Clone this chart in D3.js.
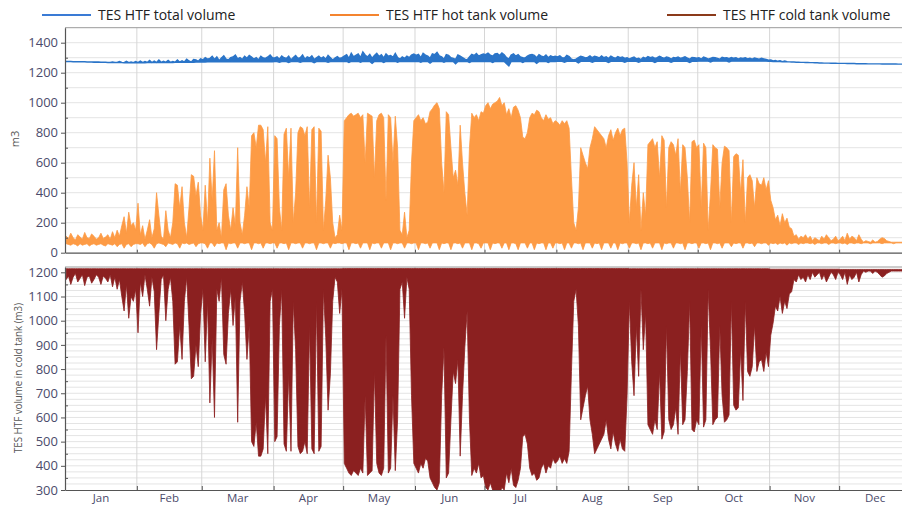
<!DOCTYPE html>
<html>
<head>
<meta charset="utf-8">
<script src="https://cdn.jsdelivr.net/npm/d3@7"></script>
<style>
body{margin:0;background:#fff;}
svg{display:block;font-family:"Open Sans",sans-serif;}
</style>
</head>
<body>
<svg id="chart"></svg>
<script>
var months = ['Jan','Feb','Mar','Apr','May','Jun','Jul','Aug','Sep','Oct','Nov','Dec'];
var monthStart = [0,31,59,90,120,151,181,212,243,273,304,334];
var legendNames = ['TES HTF total volume','TES HTF hot tank volume','TES HTF cold tank volume'];

// daily peak of the hot tank (m3), one row per month
var hotPeak = [
  [110,95,130,100,85,120,105,90,135,100,95,125,110,90,100,130,95,105,120,90,140,100,150,110,180,240,130,270,180,200,150],
  [330,120,180,90,150,220,100,160,400,250,110,90,280,150,100,200,460,450,300,440,200,100,300,520,510,380,470,250],
  [150,450,200,630,350,680,150,200,100,420,460,250,150,300,180,700,200,120,250,440,300,780,800,700,850,850,820,600,840,200,150],
  [780,760,300,150,790,830,500,830,200,400,800,840,830,780,840,300,820,840,200,830,810,150,350,650,500,200,100,120,250,150],
  [880,900,920,930,910,920,930,900,920,600,930,920,910,500,880,920,930,900,350,920,900,600,910,700,150,120,270,100,150,600,880],
  [900,920,880,900,860,870,940,960,985,1000,960,600,400,940,920,700,500,550,450,850,600,400,250,700,930,900,920,880,940,930],
  [980,1000,960,990,1000,1010,1035,980,1000,920,960,900,970,980,950,900,770,760,800,900,930,920,950,940,900,880,920,890,900,860,880],
  [870,850,880,860,880,830,500,200,150,300,700,650,600,560,700,760,840,820,800,780,760,700,780,820,750,800,830,780,820,830,600],
  [200,450,600,300,520,150,400,250,720,740,760,700,740,500,780,750,300,700,740,720,650,760,400,720,700,500,200,740,750,700],
  [720,300,730,700,150,400,720,700,690,300,600,710,700,680,200,640,660,650,400,620,200,500,520,480,300,500,460,450,500,420,480],
  [350,300,220,250,180,260,200,230,170,160,110,120,90,110,100,120,90,110,80,100,90,80,110,90,120,100,80,90,110,80],
  [90,110,80,130,90,110,100,80,120,90,70,80,75,70,85,70,75,90,100,95,80,75,70,70,70,70,70,70,70,70,70]
];
// daily low of the hot tank
var hotLow = [
  [60,55,50,60,55,45,60,50,55,60,45,55,60,50,55,60,50,45,60,55,50,60,40,55,60,30,55,60,40,55,60],
  [60,55,65,40,60,65,55,30,60,65,60,55,40,65,60,55,65,60,30,65,60,65,55,60,65,40,60,65],
  [65,60,30,65,65,40,65,60,65,65,20,65,60,65,65,30,65,65,60,65,65,20,65,65,60,65,30,65,65,60,65],
  [65,30,65,65,60,65,20,65,65,60,65,65,30,65,65,60,65,65,20,65,65,60,65,65,30,65,60,65,65,60],
  [65,65,20,65,65,60,65,30,65,65,65,20,65,60,65,65,30,65,65,65,20,65,65,60,65,65,30,65,65,60,65],
  [65,20,65,65,60,65,30,65,65,65,20,65,60,65,65,20,65,65,60,65,30,65,65,65,20,65,65,60,30,65],
  [65,65,20,65,60,65,65,30,65,65,20,65,65,60,20,65,65,65,30,65,65,20,65,60,65,65,20,65,65,30,65],
  [65,60,65,20,65,65,30,65,65,60,65,20,65,65,65,30,65,60,65,20,65,65,65,30,65,65,20,65,60,65,65],
  [30,65,65,60,65,20,65,65,60,65,30,65,65,65,20,65,60,65,65,30,65,65,60,65,20,65,65,60,65,65],
  [30,65,65,60,65,20,65,65,60,65,30,65,65,65,40,65,60,65,65,30,65,65,60,65,40,65,65,60,65,65,50],
  [65,60,65,55,65,60,65,50,65,60,65,65,55,65,60,65,65,60,65,55,65,65,60,65,65,55,65,65,60,65],
  [65,60,65,55,65,65,60,65,65,60,65,65,65,60,65,65,65,65,60,65,65,65,65,60,65,65,65,65,65,65,65]
];
// daily minimum of the cold tank
var coldMin = [
  [1170,1185,1150,1180,1195,1160,1175,1190,1145,1180,1185,1155,1170,1190,1180,1150,1185,1175,1160,1190,1140,1180,1130,1170,1100,1040,1150,1010,1100,1080,1130],
  [950,1160,1100,1190,1130,1060,1180,1120,880,1030,1170,1190,1000,1130,1180,1080,820,830,980,840,1080,1180,980,760,770,900,810,1030],
  [1130,830,1080,660,930,600,1130,1080,1180,860,820,1030,1130,980,1100,580,1080,1160,1030,840,980,500,480,580,440,440,470,690,450,1080,1130],
  [500,520,980,1130,490,460,780,460,1080,880,480,450,460,500,450,980,470,450,1080,460,480,1130,930,630,780,1080,1180,1160,1030,1130],
  [410,390,370,360,380,370,360,390,370,690,360,370,380,790,410,370,360,390,940,370,390,690,380,590,1130,1160,1010,1180,1130,690,410],
  [390,370,410,390,430,420,350,330,310,300,330,690,890,350,370,590,790,740,840,440,690,890,1040,590,360,390,370,410,350,360],
  [310,300,330,300,300,290,285,310,300,370,330,390,320,310,340,390,520,530,490,390,360,370,340,350,390,410,370,400,390,430,410],
  [420,440,410,430,410,460,790,1080,1130,980,590,640,690,730,590,530,450,470,490,510,530,590,510,470,540,490,460,510,470,460,690],
  [1080,830,690,980,770,1130,880,1030,570,550,530,590,550,790,510,540,980,590,550,570,640,530,880,570,590,790,1080,550,540,590],
  [570,980,560,590,1130,880,570,590,600,980,690,580,590,610,1080,650,630,640,880,670,1080,790,770,810,980,790,830,840,790,870,810],
  [940,990,1060,1040,1100,1030,1080,1050,1110,1120,1170,1160,1190,1170,1180,1160,1190,1170,1200,1180,1190,1200,1170,1190,1160,1180,1200,1190,1170,1200],
  [1190,1170,1200,1150,1190,1170,1180,1200,1160,1190,1205,1200,1205,1205,1195,1205,1200,1190,1180,1185,1195,1200,1205,1205,1205,1205,1205,1205,1205,1205,1205]
];
// full level of the cold tank, per month
var coldTop = [1215,1215,1215,1215,1216,1216,1216,1216,1215,1215,1213,1212];
// total volume, daily low / high
var totalLow = [
  [1274,1274,1274,1273,1273,1273,1272,1272,1272,1271,1271,1271,1270,1270,1270,1269,1269,1269,1268,1268,1268,1267,1267,1267,1267,1266,1266,1266,1266,1266,1266],
  [1266,1266,1266,1266,1267,1267,1267,1267,1267,1267,1268,1268,1268,1268,1268,1268,1269,1269,1269,1269,1270,1270,1270,1270,1270,1271,1271,1271],
  [1271,1271,1272,1272,1272,1272,1272,1272,1272,1272,1272,1272,1272,1273,1273,1273,1273,1273,1273,1273,1273,1273,1273,1273,1273,1273,1273,1273,1273,1273,1273],
  [1274,1274,1270,1274,1274,1274,1268,1274,1274,1274,1274,1270,1274,1274,1274,1274,1274,1266,1274,1274,1274,1274,1274,1270,1274,1274,1274,1274,1274,1274],
  [1275,1275,1268,1275,1275,1275,1275,1270,1275,1275,1275,1275,1262,1275,1275,1275,1275,1268,1275,1275,1275,1275,1275,1270,1275,1275,1275,1275,1275,1275,1275],
  [1275,1275,1270,1275,1275,1275,1264,1275,1275,1275,1275,1275,1270,1275,1275,1275,1275,1260,1275,1275,1275,1275,1275,1268,1275,1275,1275,1275,1275,1275],
  [1275,1275,1275,1268,1275,1275,1275,1275,1275,1260,1245,1275,1275,1275,1275,1275,1268,1275,1275,1275,1275,1275,1262,1275,1275,1275,1275,1268,1275,1275,1275],
  [1276,1276,1276,1270,1276,1276,1276,1276,1276,1266,1276,1276,1276,1276,1276,1270,1276,1276,1276,1276,1276,1276,1268,1276,1276,1276,1276,1276,1276,1270,1276],
  [1276,1276,1276,1276,1270,1276,1276,1276,1276,1276,1276,1268,1276,1276,1276,1276,1276,1276,1270,1276,1276,1276,1276,1276,1276,1276,1268,1276,1276,1276],
  [1277,1277,1277,1277,1277,1272,1277,1277,1277,1277,1277,1277,1277,1272,1277,1277,1277,1277,1277,1277,1277,1277,1277,1277,1277,1277,1277,1277,1277,1277,1276],
  [1276,1275,1275,1274,1274,1273,1273,1272,1272,1271,1271,1270,1270,1269,1269,1268,1268,1267,1267,1266,1266,1265,1265,1264,1264,1264,1263,1263,1263,1262],
  [1262,1262,1262,1261,1261,1261,1261,1260,1260,1260,1260,1260,1259,1259,1259,1259,1259,1259,1258,1258,1258,1258,1258,1258,1258,1257,1257,1257,1257,1257,1257]
];
var totalHigh = [
  [1275,1275,1275,1274,1274,1274,1273,1273,1273,1272,1272,1272,1271,1271,1271,1270,1270,1270,1269,1269,1272,1268,1268,1274,1268,1267,1276,1267,1272,1267,1275],
  [1267,1278,1267,1275,1268,1282,1268,1278,1268,1285,1269,1276,1269,1282,1269,1274,1270,1285,1270,1280,1271,1290,1278,1271,1288,1285,1276,1292],
  [1285,1300,1290,1295,1310,1288,1305,1280,1298,1312,1290,1285,1300,1305,1318,1292,1300,1288,1310,1296,1315,1305,1290,1300,1285,1310,1298,1295,1305,1318,1300],
  [1298,1305,1290,1312,1300,1295,1310,1285,1302,1315,1295,1300,1318,1290,1305,1298,1312,1288,1300,1310,1295,1305,1290,1315,1300,1285,1298,1308,1295,1300],
  [1310,1320,1295,1330,1305,1315,1325,1300,1338,1318,1305,1322,1296,1315,1330,1308,1320,1298,1325,1310,1315,1302,1328,1300,1290,1305,1295,1310,1300,1318,1325],
  [1315,1322,1300,1330,1318,1310,1296,1325,1320,1335,1312,1305,1290,1320,1315,1300,1295,1288,1318,1310,1300,1290,1285,1305,1322,1315,1328,1310,1318,1325],
  [1320,1330,1318,1310,1325,1328,1315,1332,1320,1300,1290,1318,1325,1310,1320,1305,1300,1298,1310,1318,1322,1315,1300,1320,1310,1305,1318,1300,1312,1305,1310],
  [1305,1312,1300,1298,1315,1308,1290,1285,1290,1300,1310,1305,1298,1302,1312,1300,1310,1305,1298,1312,1300,1306,1295,1310,1302,1296,1308,1300,1305,1295,1300],
  [1290,1298,1305,1292,1296,1288,1302,1296,1308,1300,1305,1295,1300,1310,1302,1296,1305,1300,1290,1302,1298,1305,1295,1300,1306,1298,1290,1302,1300,1296],
  [1300,1290,1304,1298,1290,1296,1302,1300,1295,1290,1303,1298,1300,1294,1302,1296,1300,1290,1298,1295,1300,1292,1296,1290,1298,1294,1290,1296,1292,1288,1284],
  [1285,1278,1282,1276,1280,1274,1278,1273,1272,1271,1271,1270,1270,1269,1269,1268,1268,1267,1267,1266,1266,1265,1265,1264,1264,1264,1263,1263,1263,1262],
  [1262,1262,1262,1261,1261,1261,1261,1260,1260,1260,1260,1260,1259,1259,1259,1259,1259,1259,1258,1258,1258,1258,1258,1258,1258,1257,1257,1257,1257,1257,1257]
];

var w = 902, h = 507;
var left = 65;
var topY0 = 252.7, topY1 = 27.7, botY0 = 490, botY1 = 267;
var labelColor = '#4b4b6b', gridColor = '#e4e4e4', vGridColor = '#d6d6d6';

var x = d3.scaleLinear().domain([0,365]).range([left,911]);
var yTop = d3.scaleLinear().domain([0,1500]).range([topY0,topY1]);
var yBot = d3.scaleLinear().domain([300,1222]).range([botY0,botY1]);

//join two month tables into day rows
function toDays(lo, hi){
  var out = [];
  hi.forEach(function(m,i){
    m.forEach(function(v,j){
      var l = Array.isArray(lo[i]) ? lo[i][j] : lo[i];
      out.push({day: monthStart[i]+j, lo: l, hi: v});
    });
  });
  return out;
}
var hotRows = toDays(hotLow, hotPeak);
var totalRows = toDays(totalLow, totalHigh);
var coldRows = toDays(coldMin, coldTop.map(function(t,i){ return hotPeak[i].map(function(){ return t; }); }));

var svg = d3.select('#chart').attr('width', w).attr('height', h);
var defs = svg.append('defs');
defs.append('clipPath').attr('id','clipTop').append('rect')
  .attr('x', left).attr('y', topY1).attr('width', w-left).attr('height', topY0-topY1);
defs.append('clipPath').attr('id','clipBot').append('rect')
  .attr('x', left).attr('y', botY1).attr('width', w-left).attr('height', botY0-botY1);

function panel(y, y0, y1, gridStep){
  var g = svg.append('g');
  var d = y.domain();
  var hv = d3.range(Math.ceil(d[0]/gridStep)*gridStep, d[1], gridStep).filter(function(v){ return v > d[0]; });
  g.selectAll('line.hg').data(hv).enter().append('line')
    .attr('x1', left).attr('x2', w).attr('y1', function(v){ return y(v); }).attr('y2', function(v){ return y(v); })
    .attr('stroke', gridColor).attr('stroke-width', 1);
  g.selectAll('line.vg').data(monthStart.slice(1)).enter().append('line')
    .attr('x1', function(v){ return x(v); }).attr('x2', function(v){ return x(v); })
    .attr('y1', y1).attr('y2', y0)
    .attr('stroke', vGridColor).attr('stroke-width', 1);
  //frame top
  g.append('line').attr('x1', left).attr('x2', w).attr('y1', y1).attr('y2', y1)
    .attr('stroke', '#9a9a9a').attr('stroke-width', 1);
  return g;
}
panel(yTop, topY0, topY1, 100);
panel(yBot, botY0, botY1, 25);

//series
var areaTop = function(rows){
  return d3.area().x(function(d){ return x(d.day+0.5); })
    .y0(function(d){ return yTop(d.lo); }).y1(function(d){ return yTop(d.hi); })(rows);
};
var gTop = svg.append('g').attr('clip-path','url(#clipTop)');
gTop.append('path').attr('d', areaTop(hotRows))
  .attr('fill','#fd9b45').attr('stroke','#fd9b45').attr('stroke-width',0.8);
gTop.append('path').attr('d', areaTop(totalRows))
  .attr('fill','#2a74c8').attr('stroke','#2a74c8').attr('stroke-width',1.4);

var gBot = svg.append('g').attr('clip-path','url(#clipBot)');
gBot.append('path')
  .attr('d', d3.area().x(function(d){ return x(d.day+0.5); })
    .y0(function(d){ return yBot(d.lo); }).y1(function(d){ return yBot(d.hi); })(coldRows))
  .attr('fill','#8b2020').attr('stroke','#8b2020').attr('stroke-width',0.8);

//axes
function styleAxis(g){
  g.selectAll('path.domain').attr('stroke','#555').attr('stroke-width',1.2);
  g.selectAll('line').attr('stroke','#555');
  g.selectAll('text').attr('fill', labelColor).style('font-size','13px').style('font-family','"Open Sans",sans-serif');
}
var fmt = d3.format('d');
var ay = svg.append('g').attr('transform','translate('+left+',0)')
  .call(d3.axisLeft(yTop).tickValues(d3.range(0,1401,200)).tickFormat(fmt).tickSizeInner(4).tickSizeOuter(0).tickPadding(3));
styleAxis(ay);
svg.append('g').attr('transform','translate('+left+',0)')
  .call(d3.axisLeft(yTop).tickValues(d3.range(100,1500,200)).tickSize(-3).tickFormat(''))
  .call(function(g){ g.select('.domain').remove(); g.selectAll('line').attr('stroke','#555'); });

var ay2 = svg.append('g').attr('transform','translate('+left+',0)')
  .call(d3.axisLeft(yBot).tickValues(d3.range(300,1201,100)).tickFormat(fmt).tickSizeInner(4).tickSizeOuter(0).tickPadding(3));
styleAxis(ay2);
svg.append('g').attr('transform','translate('+left+',0)')
  .call(d3.axisLeft(yBot).tickValues(d3.range(350,1200,100)).tickSize(-3).tickFormat(''))
  .call(function(g){ g.select('.domain').remove(); g.selectAll('line').attr('stroke','#555'); });

var ax1 = svg.append('g').attr('transform','translate(0,'+topY0+')')
  .call(d3.axisBottom(x).tickValues(monthStart.slice(1)).tickSize(-3).tickSizeOuter(0).tickFormat(''));
styleAxis(ax1);
var ax2 = svg.append('g').attr('transform','translate(0,'+botY0+')')
  .call(d3.axisBottom(x).tickValues(monthStart.slice(1)).tickSize(-4).tickSizeOuter(0).tickFormat(''));
styleAxis(ax2);

svg.selectAll('text.month').data(months).enter().append('text')
  .attr('class','month')
  .attr('x', function(d,i){ var e = i<11 ? monthStart[i+1] : 365; return x((monthStart[i]+e)/2); })
  .attr('y', 502)
  .attr('text-anchor','middle')
  .attr('fill', labelColor).style('font-size','11.5px')
  .text(function(d){ return d; });

//axis titles
svg.append('text').attr('transform','translate(19,139) rotate(-90)')
  .attr('text-anchor','middle').attr('fill','#555').style('font-size','11px').text('m3');
svg.append('text').attr('transform','translate(22,378) rotate(-90)')
  .attr('text-anchor','middle').attr('fill','#555').style('font-size','11px')
  .attr('textLength',150).attr('lengthAdjust','spacingAndGlyphs')
  .text('TES HTF volume in cold tank (m3)');

//legend
var legend = [
  {name: legendNames[0], color: '#3a7bd5', x: 42},
  {name: legendNames[1], color: '#f4842f', x: 330},
  {name: legendNames[2], color: '#8b3a1a', x: 667}
];
var lg = svg.selectAll('g.legend').data(legend).enter().append('g')
  .attr('transform', function(d){ return 'translate('+d.x+',0)'; });
lg.append('line').attr('x1',0).attr('x2',49).attr('y1',15).attr('y2',15)
  .attr('stroke', function(d){ return d.color; }).attr('stroke-width',2);
lg.append('text').attr('x',56).attr('y',20).attr('fill','#222').style('font-size','14px')
  .text(function(d){ return d.name; });
</script>
</body>
</html>
